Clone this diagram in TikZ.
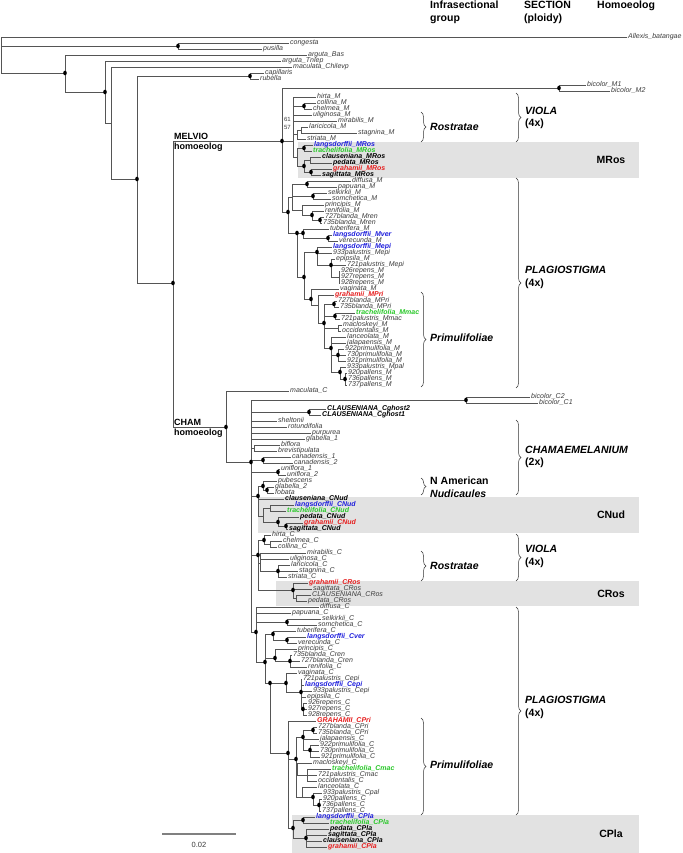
\documentclass[tikz,border=0pt]{standalone}
\usepackage{fontspec}
\setmainfont{Liberation Sans}
\usetikzlibrary{decorations.pathreplacing}
\definecolor{branchgray}{RGB}{85,85,85}
\definecolor{leafgray}{RGB}{60,60,60}
\definecolor{boxgray}{RGB}{226,226,226}
\definecolor{langblue}{RGB}{30,30,220}
\definecolor{trachgreen}{RGB}{40,200,40}
\definecolor{grahred}{RGB}{230,30,30}
\newcommand{\leaffont}{\fontsize{7}{7}\selectfont\itshape}
\newcommand{\leafboldfont}{\fontsize{7}{7}\selectfont\bfseries\itshape}
\newcommand{\grpfont}{\fontsize{10.5}{12.5}\selectfont\bfseries}
\newcommand{\homfont}{\fontsize{9}{11}\selectfont\bfseries}
\tikzset{
  branch/.style={draw=branchgray, line width=0.7pt},
  leaf/.style={anchor=west, inner xsep=1pt, inner ysep=0pt, text height=5pt,
    text depth=1.4pt, font=\leaffont, text=leafgray},
  tplain/.style={},
  tblack/.style={font=\leafboldfont, text=black},
  tblue/.style={font=\leafboldfont, text=langblue},
  tgreen/.style={font=\leafboldfont, text=trachgreen},
  tred/.style={font=\leafboldfont, text=grahred},
  grpbrace/.style={decorate, decoration={brace, amplitude=5pt}, draw=black!80,
    line width=0.5pt},
  grplbl/.style={anchor=west, align=left, inner sep=0pt, font=\grpfont},
  boxlbl/.style={font=\grpfont},
  homlbl/.style={font=\homfont, inner sep=1pt},
  boot/.style={font=\fontsize{6}{6}\selectfont, text=leafgray, inner sep=0pt},
  scalebar/.style={draw=gray, line width=1.2pt}
}

\begin{document}
\begin{tikzpicture}[x=1pt, y=-1pt]
  \fill[white] (0,0) rectangle (682,853);
  \useasboundingbox (0,0) rectangle (682,853);
  % Shaded homoeolog groups
  \fill[boxgray] (298,142) rectangle (639,178);
  \fill[boxgray] (258,497) rectangle (639,533);
  \fill[boxgray] (276,581) rectangle (639,606);
  \fill[boxgray] (292,815) rectangle (639,853);
  % Internal nodes
  \foreach \n/\x/\y in {root/1/55, CP/178/46, N0/65/73, N1/105/92, N2/111/123,
    N3/137/179, CR/250/76, N4/173/283, MEL/282/141, BIM/559/88, VIO/293/141,
    CH1/304/106, LS/297/134, LS2/301/130, MR/297/157, MR1/304/148, MR2/304/166,
    MR3/310/160, MR4/311/172, PM/288/212, D/292/197, DP/307/184, SS/313/196,
    PR/302/210, RB/312/215, BB/320/220, E/297/233, F/303/233, MV/328/238,
    G/304/277, EP1/317/252, EP2/331/265, REP/339/277, PRI/311/299, PA/318/305,
    PB/324/323, BL/334/304, MAC/335/316, MO/338/328, PAL/331/348, PRM/338/355,
    PLL/340/372, PAL3/345/379, CHA/226/427, CH2/251/462, BIC/466/400,
    GH/309/412, BB2/254/448, CAN/263/460, UNI/278/472, NUD/258/496,
    PGF/263/486, GF/267/490, NB/263/516, LT/270/508, PGS/278/522, GS/286/526,
    VC/258/555, HCC/264/540, CC/270/544, VC2/260/563, RS/278/571, CRO/293/590,
    CR2/296/598, PC/256/632, SS2/287/622, PC2/265/662, TV/273/634, LV/287/640,
    PR2/275/658, BR/290/661, PC3/270/683, EPC/286/683, EC2/301/692,
    REP2/303/709, PC4/288/753, PCP/296/759, BJ/303/737, BL2/313/730,
    PRM2/310/750, MAC2/297/773, MC3/307/775, PALC/302/797, PC5/313/797,
    PC6/319/805, CPL/293/828, LT2/303/820, PSCG/306/838}
    \coordinate (\n) at (\x,\y);
  % Leaves, one row each
  \foreach \tip/\txt/\sty [count=\i] in {
    627/Allexis\_batangae/tplain, 289/congesta/tplain, 262/pusilla/tplain,
    307/arguta\_Bas/tplain, 281/arguta\_Tnlep/tplain,
    292/maculata\_Chilevp/tplain, 264/capillaris/tplain, 259/rubella/tplain,
    586/bicolor\_M1/tplain, 610/bicolor\_M2/tplain, 316/hirta\_M/tplain,
    316/collina\_M/tplain, 312/chelmea\_M/tplain, 312/uliginosa\_M/tplain,
    337/mirabilis\_M/tplain, 308/laricicola\_M/tplain, 357/stagnina\_M/tplain,
    306/striata\_M/tplain, 313/langsdorffii\_MRos/tblue,
    312/trachelifolia\_MRos/tgreen, 321/clauseniana\_MRos/tblack,
    332/pedata\_MRos/tblack, 332/grahamii\_MRos/tred,
    321/sagittata\_MRos/tblack, 351/diffusa\_M/tplain, 337/papuana\_M/tplain,
    327/selkirkii\_M/tplain, 331/somchetica\_M/tplain, 324/principis\_M/tplain,
    324/renifolia\_M/tplain, 324/727blanda\_Mren/tplain,
    322/735blanda\_Mren/tplain, 329/tuberifera\_M/tplain,
    332/langsdorffii\_Mver/tblue, 338/verecunda\_M/tplain,
    332/langsdorffii\_Mepi/tblue, 332/933palustris\_Mepi/tplain,
    335/epipsila\_M/tplain, 346/721palustris\_Mepi/tplain,
    340/926repens\_M/tplain, 340/927repens\_M/tplain, 340/928repens\_M/tplain,
    339/vaginata\_M/tplain, 334/grahamii\_MPri/tred,
    337/727blanda\_MPri/tplain, 339/735blanda\_MPri/tplain,
    355/trachelifolia\_Mmac/tgreen, 340/721palustris\_Mmac/tplain,
    342/macloskeyi\_M/tplain, 341/occidentalis\_M/tplain,
    346/lanceolata\_M/tplain, 346/jalapaensis\_M/tplain,
    344/922primulifolia\_M/tplain, 346/730primulifolia\_M/tplain,
    346/921primulifolia\_M/tplain, 346/933palustris\_Mpal/tplain,
    347/920pallens\_M/tplain, 347/736pallens\_M/tplain,
    347/737pallens\_M/tplain, 289/maculata\_C/tplain, 530/bicolor\_C2/tplain,
    538/bicolor\_C1/tplain, 326/CLAUSENIANA\_Cghost2/tblack,
    321/CLAUSENIANA\_Cghost1/tblack, 277/sheltonii/tplain,
    287/rotundifolia/tplain, 311/purpurea/tplain, 305/glabella\_1/tplain,
    280/biflora/tplain, 277/brevistipulata/tplain, 291/canadensis\_1/tplain,
    293/canadensis\_2/tplain, 280/uniflora\_1/tplain, 286/uniflora\_2/tplain,
    277/pubescens/tplain, 274/glabella\_2/tplain, 274/fobata/tplain,
    284/clauseniana\_CNud/tblack, 294/langsdorffii\_CNud/tblue,
    286/trachelifolia\_CNud/tgreen, 299/pedata\_CNud/tblack,
    303/grahamii\_CNud/tred, 288/sagittata\_CNud/tblack, 271/hirta\_C/tplain,
    282/chelmea\_C/tplain, 277/collina\_C/tplain, 306/mirabilis\_C/tplain,
    289/uliginosa\_C/tplain, 290/laricicola\_C/tplain, 298/stagnina\_C/tplain,
    287/striata\_C/tplain, 308/grahamii\_CRos/tred, 312/sagittata\_CRos/tplain,
    311/CLAUSENIANA\_CRos/tplain, 307/pedata\_CRos/tplain,
    319/diffusa\_C/tplain, 291/papuana\_C/tplain, 321/selkirkii\_C/tplain,
    317/somchetica\_C/tplain, 296/tuberifera\_C/tplain,
    306/langsdorffii\_Cver/tblue, 297/verecunda\_C/tplain,
    297/principis\_C/tplain, 292/735blanda\_Cren/tplain,
    300/727blanda\_Cren/tplain, 307/renifolia\_C/tplain,
    297/vaginata\_C/tplain, 302/721palustris\_Cepi/tplain,
    304/langsdorffii\_Cepi/tblue, 312/933palustris\_Cepi/tplain,
    306/epipsila\_C/tplain, 307/926repens\_C/tplain, 307/927repens\_C/tplain,
    307/928repens\_C/tplain, 316/GRAHAMII\_CPri/tred,
    317/727blanda\_CPri/tplain, 317/735blanda\_CPri/tplain,
    319/jalapaensis\_C/tplain, 319/922primulifolia\_C/tplain,
    319/730primulifolia\_C/tplain, 320/921primulifolia\_C/tplain,
    312/macloskeyi\_C/tplain, 331/trachelifolia\_Cmac/tgreen,
    317/721palustris\_Cmac/tplain, 317/occidentalis\_C/tplain,
    317/lanceolata\_C/tplain, 322/933palustris\_Cpal/tplain,
    322/920pallens\_C/tplain, 321/736pallens\_C/tplain,
    321/737pallens\_C/tplain, 315/langsdorffii\_CPla/tblue,
    329/trachelifolia\_CPla/tgreen, 329/pedata\_CPla/tblack,
    327/sagittata\_CPla/tblack, 322/clauseniana\_CPla/tblack,
    327/grahamii\_CPla/tred}
    \node[leaf, \sty] (L\i) at (\tip, {37+6*(\i-1)}) {\txt};
  % Branches
  \foreach \p/\c in {root/L1, root/CP, root/N0, CP/L2, CP/L3, N0/L4, N0/N1,
    N1/L5, N1/N2, N2/L6, N2/N3, N3/CR, N3/N4, CR/L7, CR/L8, N4/MEL, N4/CHA,
    MEL/BIM, MEL/VIO, MEL/PM, BIM/L9, BIM/L10,
    VIO/L11, VIO/CH1, VIO/L14, VIO/L15, VIO/LS, VIO/MR, CH1/L12, CH1/L13,
    LS/LS2, LS/L18, LS2/L16, LS2/L17, MR/MR1, MR/MR2, MR1/L19, MR1/L20,
    MR2/MR3, MR2/MR4, MR3/L21, MR3/L22, MR4/L23, MR4/L24,
    PM/D, PM/E, D/DP, D/SS, D/PR, DP/L25, DP/L26, SS/L27, SS/L28, PR/L29,
    PR/RB, RB/L30, RB/BB, BB/L31, BB/L32, E/F, E/G, F/L33, F/MV, MV/L34,
    MV/L35, G/EP1, G/PRI, EP1/L36, EP1/L37, EP1/EP2, EP2/L38, EP2/L39,
    EP2/REP, REP/L40, REP/L41, REP/L42, PRI/L43, PRI/PA, PA/L44, PA/PB,
    PB/BL, PB/MAC, PB/MO, PB/PAL, BL/L45, BL/L46, MAC/L47, MAC/L48, MO/L49,
    MO/L50, PAL/L51, PAL/L52, PAL/PRM, PAL/PLL, PRM/L53, PRM/L54, PRM/L55,
    PLL/L56, PLL/PAL3, PAL3/L57, PAL3/L58, PAL3/L59,
    CHA/L60, CHA/CH2, CH2/BIC, CH2/GH, CH2/L65, CH2/L66, CH2/L67, CH2/L68,
    CH2/BB2, CH2/CAN, CH2/UNI, CH2/NUD, CH2/VC, CH2/PC, BIC/L61, BIC/L62,
    GH/L63, GH/L64, BB2/L69, BB2/L70, CAN/L71, CAN/L72, UNI/L73, UNI/L74,
    NUD/PGF, NUD/L78, NUD/NB, PGF/L75, PGF/GF, GF/L76, GF/L77, NB/LT,
    NB/PGS, LT/L79, LT/L80, PGS/L81, PGS/GS, GS/L82, GS/L83,
    VC/HCC, VC/VC2, VC/CRO, HCC/L84, HCC/CC, CC/L85, CC/L86, VC2/L87,
    VC2/L88, VC2/RS, RS/L89, RS/L90, RS/L91, CRO/L92, CRO/L93, CRO/CR2,
    CR2/L94, CR2/L95, PC/L96, PC/L97, PC/SS2, PC/PC2, SS2/L98, SS2/L99,
    PC2/TV, PC2/PR2, PC2/PC3, TV/L100, TV/LV, LV/L101, LV/L102, PR2/L103,
    PR2/BR, BR/L104, BR/L105, BR/L106, PC3/EPC, PC3/PC4, EPC/L107, EPC/EC2,
    EC2/L108, EC2/L109, EC2/L110, EC2/L111, EC2/REP2, REP2/L112, REP2/L113,
    REP2/L114, PC4/L115, PC4/PCP, PC4/CPL, PCP/BJ, PCP/MAC2, PCP/PALC,
    BJ/BL2, BJ/L118, BJ/PRM2, BL2/L116, BL2/L117, PRM2/L119, PRM2/L120,
    PRM2/L121, MAC2/L122, MAC2/MC3, MC3/L123, MC3/L124, MC3/L125,
    PALC/L126, PALC/PC5, PC5/L127, PC5/PC6, PC6/L128, PC6/L129, PC6/L130,
    CPL/LT2, CPL/PSCG, LT2/L131, LT2/L132, PSCG/L133, PSCG/L134, PSCG/L135,
    PSCG/L136}
    \draw[branch] (\p) |- (\c);
  % Supported nodes
  \foreach \n in {CP, N0, N1, N3, CR, N4, MEL, BIM, CH1, MR1, MR2, MR4, PM,
    DP, SS, RB, BB, E, F, MV, G, EP1, EP2, PRI, BL, PB, MAC, PAL, PRM, PLL,
    PAL3, CHA, CH2, BIC, GH, CAN, UNI, NUD, PGF, GF, PGS, GS, VC, HCC, RS,
    CRO, PC, SS2, TV, LV, PR2, BR, PC2, PC3, EPC, EC2, REP2, PC4, PCP, BL2,
    BJ, PRM2, PC5, PC6, CPL, LT2, PSCG}
    \fill (\n) ellipse [x radius=1.8pt, y radius=2.3pt];
  % Bootstrap values
  \node[boot, anchor=east] (bs61) at (291,119) {61};
  \node[boot, anchor=east] (bs57) at (291,127) {57};
  % Homoeolog clade names
  \node[homlbl, anchor=south west] (melvio) at (173,140.5) {MELVIO};
  \node[homlbl, anchor=north west] (melhom) at (173,141.5) {homoeolog};
  \node[homlbl, anchor=south west] (cham) at (173,426.5) {CHAM};
  \node[homlbl, anchor=north west] (chamhom) at (173,427.5) {homoeolog};
  % Column headers
  \node[grplbl, anchor=north west] (hdrgrp) at (430,1) {Infrasectional\\group};
  \node[grplbl, anchor=north west] (hdrsec) at (524,1) {SECTION\\(ploidy)};
  \node[grplbl, anchor=north west] (hdrhom) at (597,1) {Homoeolog};
  % Braces
  \foreach \x/\ya/\yb in {421/112/142, 421/292/387, 421/478/495,
    421/551/581, 421/718/815, 516/93/142, 516/178/388, 516/420/495,
    516/534/581, 516/607/815}
    \draw[grpbrace] (\x,\ya) -- (\x,\yb);
  % Infrasectional groups
  \node[grplbl] (rostM) at (430,127) {\textit{Rostratae}};
  \node[grplbl] (primM) at (430,338) {\textit{Primulifoliae}};
  \node[grplbl] (nudC) at (430,487) {N American\\\textit{Nudicaules}};
  \node[grplbl] (rostC) at (430,566) {\textit{Rostratae}};
  \node[grplbl] (primC) at (430,765) {\textit{Primulifoliae}};
  % Sections
  \node[grplbl] (violaM) at (525,118) {\textit{VIOLA}\\(4x)};
  \node[grplbl] (plagM) at (525,277.5) {\textit{PLAGIOSTIGMA}\\(4x)};
  \node[grplbl] (chamC) at (525,457) {\textit{CHAMAEMELANIUM}\\(2x)};
  \node[grplbl] (violaC) at (525,556.5) {\textit{VIOLA}\\(4x)};
  \node[grplbl] (plagC) at (525,707.5) {\textit{PLAGIOSTIGMA}\\(4x)};
  % Homoeolog boxes
  \node[boxlbl] (mros) at (611,160) {MRos};
  \node[boxlbl] (cnud) at (611,515) {CNud};
  \node[boxlbl] (cros) at (611,594) {CRos};
  \node[boxlbl] (cpla) at (611,834) {CPla};
  % Scale bar
  \coordinate (sbl) at (162,834);
  \coordinate (sbr) at (236,834);
  \draw[scalebar] (sbl) -- (sbr)
    node[midway, below=4pt, font=\fontsize{7.5}{8}\selectfont, text=leafgray] (sblbl) {0.02};
\end{tikzpicture}
\end{document}
